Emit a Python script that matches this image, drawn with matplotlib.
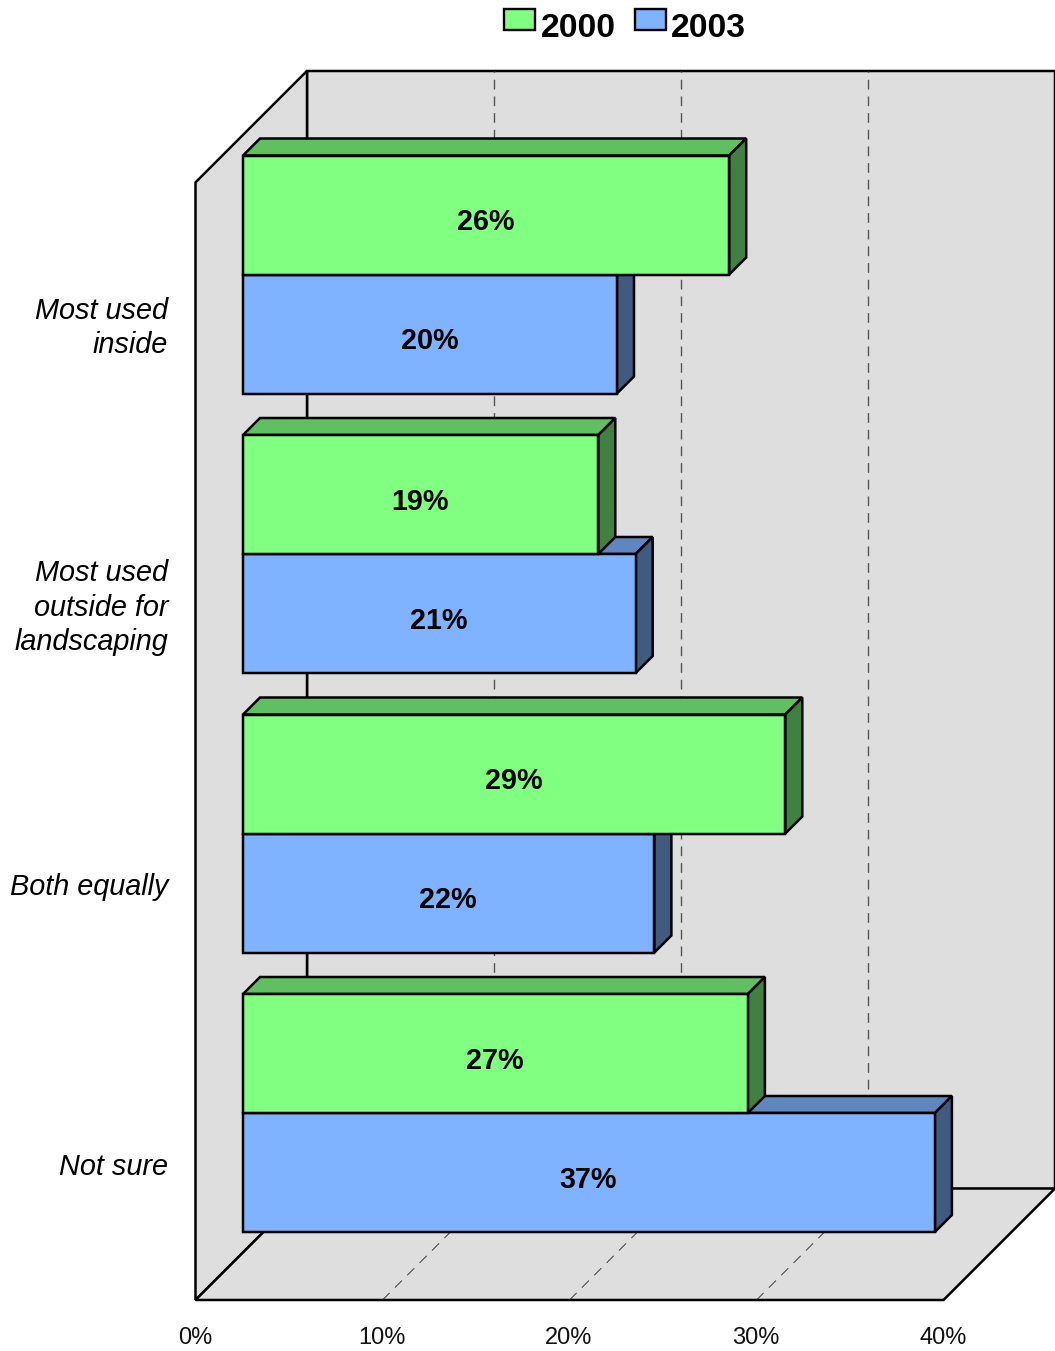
import matplotlib
matplotlib.use('Agg')
import matplotlib.pyplot as plt
from matplotlib.patches import Polygon, Rectangle

plt.rcParams['font.family'] = ['Liberation Sans', 'DejaVu Sans']

categories = ['Most used\ninside', 'Most used\noutside for\nlandscaping', 'Both equally', 'Not sure']
series_names = ['2000', '2003']
values_2000 = [26, 19, 29, 27]
values_2003 = [20, 21, 22, 37]
x_ticks = [0, 10, 20, 30, 40]

WIDTH, HEIGHT = 1055, 1351
PX_PER_PCT = 18.7
PX_PER_CAT = 279.5
ORIGIN_X = 195.5      # pixel of 0% on the front of the floor
FIRST_CAT_Y = 322.0   # pixel of the first category at the front plane
WALL_DEPTH = 111.5
BAR_NEAR = 47.5
BAR_FAR = 64.5
BAR_H = 119 / PX_PER_CAT
AX_MAX = 40

WALL = '#dedede'
FILLS = {'2000': ('#80ff80', '#60bf60', '#408040'),
         '2003': ('#80b3ff', '#6086bf', '#405a80')}

fig = plt.figure(figsize=(WIDTH / 100, HEIGHT / 100), dpi=100)
ax = fig.add_axes([0, 0, 1, 1])
ax.set_xlim(-ORIGIN_X / PX_PER_PCT, (WIDTH - ORIGIN_X) / PX_PER_PCT)
ax.set_ylim((HEIGHT - FIRST_CAT_Y) / PX_PER_CAT, -FIRST_CAT_Y / PX_PER_CAT)
ax.axis('off')


# oblique projection: push a point back by d pixels of depth
def pt(v, cat, d=0):
    return (v + d / PX_PER_PCT, cat - d / PX_PER_CAT)


def face(points, color, lw=2.5, z=2):
    ax.add_patch(Polygon(points, closed=True, facecolor=color, edgecolor='black',
                         linewidth=lw * 0.72, joinstyle='miter', zorder=z))


top = (182.4 - FIRST_CAT_Y) / PX_PER_CAT
bottom = (1300 - FIRST_CAT_Y) / PX_PER_CAT

# walls and floor
face([pt(0, top, WALL_DEPTH), pt(AX_MAX, top, WALL_DEPTH),
      pt(AX_MAX, bottom, WALL_DEPTH), pt(0, bottom, WALL_DEPTH)], WALL, z=1)
face([pt(0, top), pt(0, top, WALL_DEPTH), pt(0, bottom, WALL_DEPTH), pt(0, bottom)], WALL, z=1)
face([pt(0, bottom), pt(AX_MAX, bottom), pt(AX_MAX, bottom, WALL_DEPTH), pt(0, bottom, WALL_DEPTH)], WALL, z=1)

# gridlines run along the floor and up the back wall
for v in x_ticks[1:-1]:
    p0, p1, p2 = pt(v, bottom), pt(v, bottom, WALL_DEPTH), pt(v, top, WALL_DEPTH)
    ax.plot([p0[0], p1[0]], [p0[1], p1[1]], color='#222222', lw=0.6, dashes=(12, 9), zorder=1.5)
    ax.plot([p1[0], p2[0]], [p1[1], p2[1]], color='#555555', lw=1.0, dashes=(7, 5), zorder=1.5)


def draw_bar(value, y0, y1, name):
    front, roof, side = FILLS[name]
    face([pt(0, y0, BAR_NEAR), pt(0, y0, BAR_FAR), pt(value, y0, BAR_FAR), pt(value, y0, BAR_NEAR)], roof)
    face([pt(value, y0, BAR_NEAR), pt(value, y0, BAR_FAR), pt(value, y1, BAR_FAR), pt(value, y1, BAR_NEAR)], side)
    face([pt(0, y0, BAR_NEAR), pt(value, y0, BAR_NEAR), pt(value, y1, BAR_NEAR), pt(0, y1, BAR_NEAR)], front)
    cx, cy = pt(value / 2, (y0 + y1) / 2, BAR_NEAR)
    ax.annotate(f'{value}%', (cx, cy), xytext=(-0.4, -5.2), textcoords='offset points',
                ha='center', va='center', fontsize=20.7, fontweight='bold', zorder=5)


# blue goes first so the green bar of the same group sits over it
for i, (a, b) in enumerate(zip(values_2000, values_2003)):
    draw_bar(b, i, i + BAR_H, '2003')
    draw_bar(a, i - BAR_H, i, '2000')

for i, label in enumerate(categories):
    ax.annotate(label, (0, i), xytext=(-19.7, -4.4), textcoords='offset points', ha='right', va='center',
                fontsize=20.8, fontstyle='italic', linespacing=1.3)

for v in x_ticks:
    ax.annotate(f'{v}%', (v, bottom), xytext=(-0.4, -27), textcoords='offset points', ha='center', va='center',
                fontsize=17, color='#111111')

# legend row above the chart
for name, sx, tx in zip(series_names, [504, 635], [540.5, 670.5]):
    ax.add_patch(Rectangle((sx / WIDTH, 1 - 30 / HEIGHT), 31 / WIDTH, 21 / HEIGHT, transform=ax.transAxes,
                           facecolor=FILLS[name][0], edgecolor='black', linewidth=1.7))
    ax.text(tx / WIDTH, 1 - 37 / HEIGHT, name, transform=ax.transAxes, ha='left', va='baseline',
            fontsize=24.3, fontweight='bold')

fig.savefig('out.png', dpi=100)
